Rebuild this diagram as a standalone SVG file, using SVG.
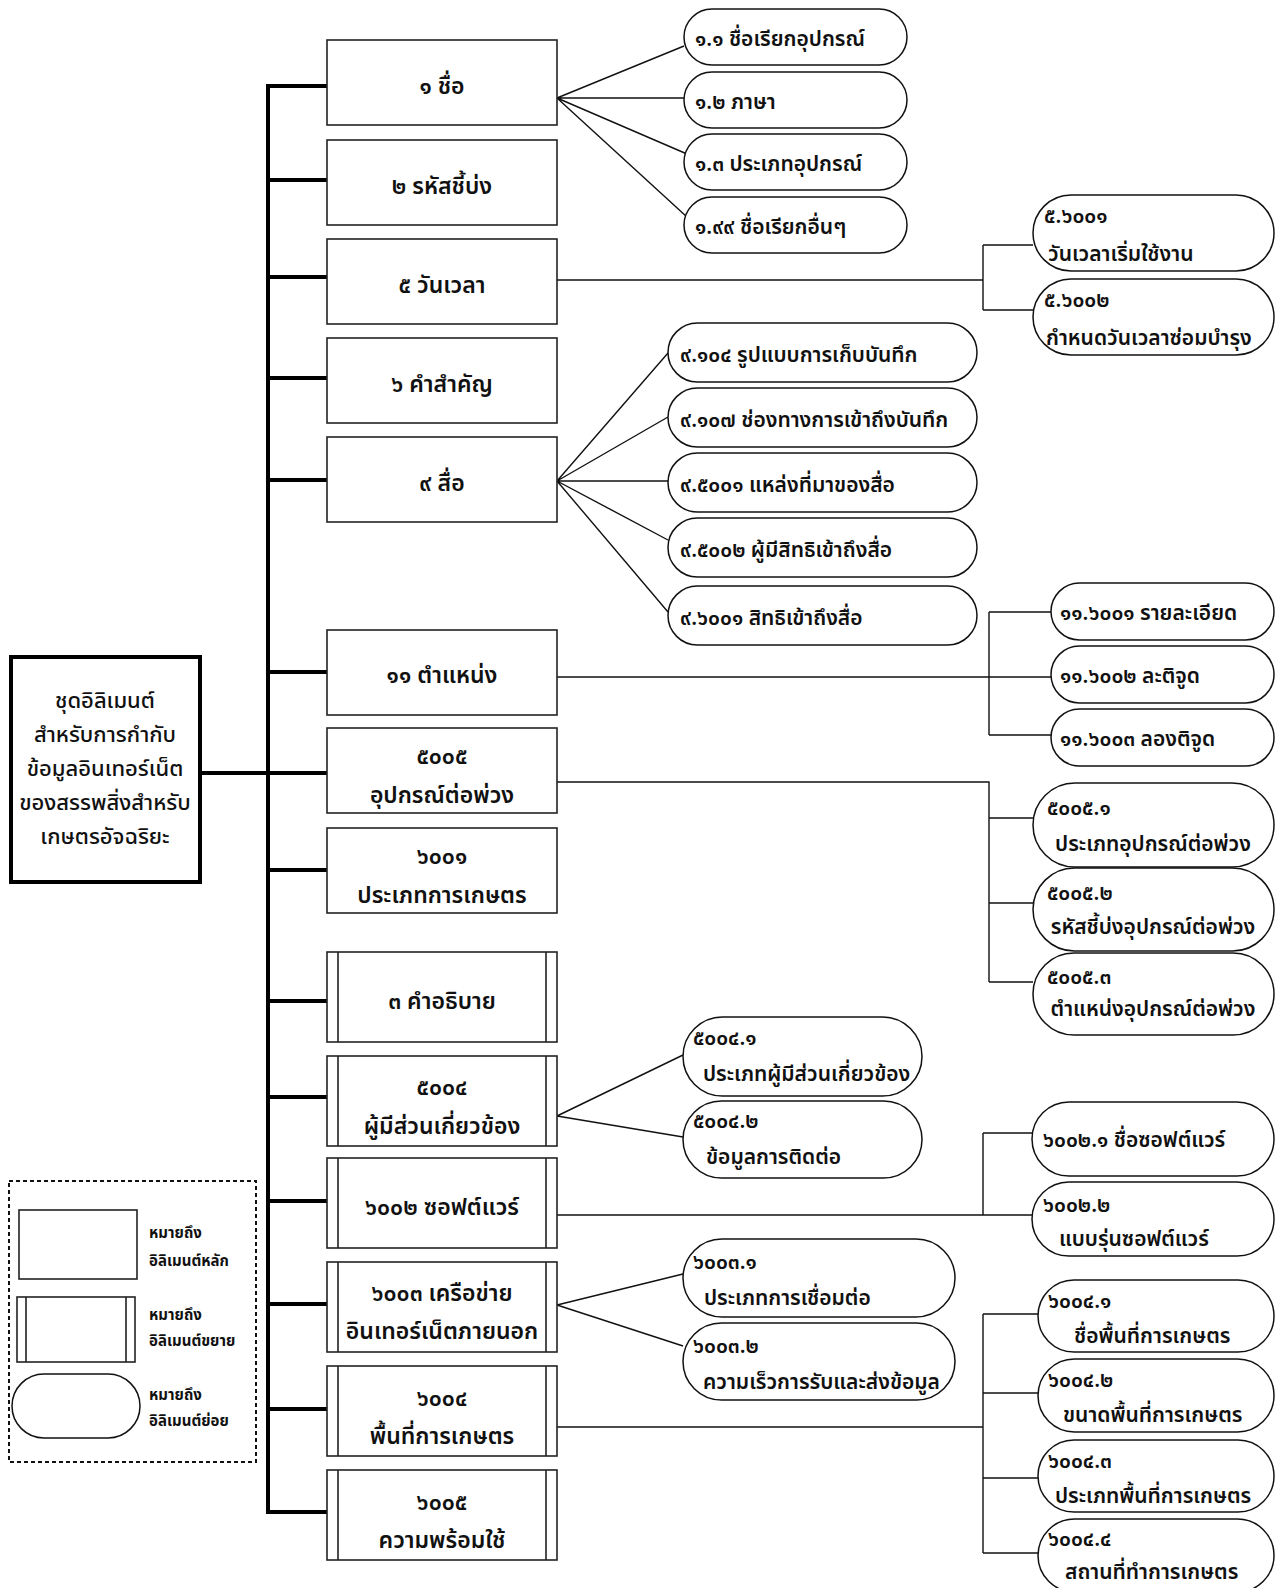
<svg xmlns="http://www.w3.org/2000/svg" width="1276" height="1588" viewBox="0 0 1276 1588">
<style>
.bx{fill:#fff;stroke:#222;stroke-width:1.6}
.pl{fill:#fff;stroke:#111;stroke-width:1.5}
.in{stroke:#222;stroke-width:1.6;fill:none}
.bus{stroke:#000;stroke-width:4;fill:none}
.cn{stroke:#111;stroke-width:1.4;fill:none}
text{font-family:"Noto Sans Thai","Noto Sans Thai UI","Leelawadee UI",Tahoma,"Noto Sans","DejaVu Sans",sans-serif;font-size:21px;font-weight:600;fill:#111}
.c{text-anchor:middle}
.b{font-size:23px;font-weight:650}
.m{font-size:22px;font-weight:500}
.lg{font-size:15px;font-weight:bold}
</style>
<rect width="1276" height="1588" fill="#fff"/>

<g id="connectors">
  <path class="bus" d="M268 84V1514"/>
  <path class="bus" d="M200 773H268M266 86H327M266 180H327M266 277H327M266 378H327M266 480H327M266 672H327M266 773H327M266 870H327M266 1001H327M266 1097H327M266 1201H327M266 1304H327M266 1409H327M266 1512H327"/>
  <path class="cn" d="M557 98L684 46M557 98H684M557 98L687 154M557 98L687 217"/>
  <path class="cn" d="M557 280H983M983 245V310M983 245H1033M983 310H1033"/>
  <path class="cn" d="M557 481L668 353M557 481L668 417M557 481H668M557 481L668 540M557 481L668 612"/>
  <path class="cn" d="M557 677H1051M989 612V735M989 612H1051M989 735H1051"/>
  <path class="cn" d="M557 782H989V982M989 818H1033M989 903H1033M989 982H1033"/>
  <path class="cn" d="M557 1116L683 1055M557 1116L683 1137"/>
  <path class="cn" d="M557 1215H1032M983 1133V1215M983 1133H1032"/>
  <path class="cn" d="M557 1305L683 1274M557 1305L683 1346"/>
  <path class="cn" d="M557 1427H983M983 1314V1553M983 1314H1038M983 1393H1038M983 1478H1038M983 1553H1038"/>
</g>

<g id="root">
  <rect x="11" y="657" width="189" height="225" fill="#fff" stroke="#000" stroke-width="4"/>
  <text class="c m" x="105" y="708">ชุดอิลิเมนต์</text>
  <text class="c m" x="105" y="742">สำหรับการกำกับ</text>
  <text class="c m" x="105" y="776">ข้อมูลอินเทอร์เน็ต</text>
  <text class="c m" x="105" y="810">ของสรรพสิ่งสำหรับ</text>
  <text class="c m" x="105" y="844">เกษตรอัจฉริยะ</text>
</g>

<g id="n1"><rect class="bx" x="327" y="40" width="230" height="85"/><text class="c b" x="442" y="94">๑ ชื่อ</text></g>
<g id="n2"><rect class="bx" x="327" y="140" width="230" height="85"/><text class="c b" x="442" y="194">๒ รหัสชี้บ่ง</text></g>
<g id="n5"><rect class="bx" x="327" y="239" width="230" height="85"/><text class="c b" x="442" y="293">๕ วันเวลา</text></g>
<g id="n6"><rect class="bx" x="327" y="338" width="230" height="85"/><text class="c b" x="442" y="392">๖ คำสำคัญ</text></g>
<g id="n9"><rect class="bx" x="327" y="437" width="230" height="85"/><text class="c b" x="442" y="491">๙ สื่อ</text></g>
<g id="n11"><rect class="bx" x="327" y="630" width="230" height="85"/><text class="c b" x="442" y="683">๑๑ ตำแหน่ง</text></g>
<g id="n5005"><rect class="bx" x="327" y="728" width="230" height="85"/><text class="c b" x="442" y="764">๕๐๐๕</text><text class="c b" x="442" y="803">อุปกรณ์ต่อพ่วง</text></g>
<g id="n6001"><rect class="bx" x="327" y="828" width="230" height="85"/><text class="c b" x="442" y="864">๖๐๐๑</text><text class="c b" x="442" y="903">ประเภทการเกษตร</text></g>

<g id="n3"><rect class="bx" x="327" y="952" width="230" height="90"/><path class="in" d="M338 952V1042M546 952V1042"/><text class="c b" x="442" y="1009">๓ คำอธิบาย</text></g>
<g id="n5004"><rect class="bx" x="327" y="1056" width="230" height="90"/><path class="in" d="M338 1056V1146M546 1056V1146"/><text class="c b" x="442" y="1095">๕๐๐๔</text><text class="c b" x="442" y="1134">ผู้มีส่วนเกี่ยวข้อง</text></g>
<g id="n6002"><rect class="bx" x="327" y="1158" width="230" height="90"/><path class="in" d="M338 1158V1248M546 1158V1248"/><text class="c b" x="442" y="1215">๖๐๐๒ ซอฟต์แวร์</text></g>
<g id="n6003"><rect class="bx" x="327" y="1262" width="230" height="90"/><path class="in" d="M338 1262V1352M546 1262V1352"/><text class="c b" x="442" y="1301">๖๐๐๓ เครือข่าย</text><text class="c b" x="442" y="1339">อินเทอร์เน็ตภายนอก</text></g>
<g id="n6004"><rect class="bx" x="327" y="1366" width="230" height="90"/><path class="in" d="M338 1366V1456M546 1366V1456"/><text class="c b" x="442" y="1406">๖๐๐๔</text><text class="c b" x="442" y="1444">พื้นที่การเกษตร</text></g>
<g id="n6005"><rect class="bx" x="327" y="1470" width="230" height="90"/><path class="in" d="M338 1470V1560M546 1470V1560"/><text class="c b" x="442" y="1510">๖๐๐๕</text><text class="c b" x="442" y="1548">ความพร้อมใช้</text></g>

<g id="p1_1"><rect class="pl" x="684" y="9" width="223" height="56" rx="28"/><text x="695" y="46">๑.๑ ชื่อเรียกอุปกรณ์</text></g>
<g id="p1_2"><rect class="pl" x="684" y="72" width="223" height="56" rx="28"/><text x="695" y="109">๑.๒ ภาษา</text></g>
<g id="p1_3"><rect class="pl" x="684" y="134" width="223" height="56" rx="28"/><text x="695" y="171">๑.๓ ประเภทอุปกรณ์</text></g>
<g id="p1_99"><rect class="pl" x="684" y="197" width="223" height="56" rx="28"/><text x="695" y="234">๑.๙๙ ชื่อเรียกอื่นๆ</text></g>

<g id="p5_6001"><rect class="pl" x="1033" y="195" width="241" height="76" rx="38"/><text x="1044" y="223">๕.๖๐๐๑</text><text x="1048" y="261">วันเวลาเริ่มใช้งาน</text></g>
<g id="p5_6002"><rect class="pl" x="1033" y="279" width="241" height="76" rx="38"/><text x="1044" y="307">๕.๖๐๐๒</text><text x="1046" y="345">กำหนดวันเวลาซ่อมบำรุง</text></g>

<g id="p9_104"><rect class="pl" x="668" y="323" width="309" height="59" rx="29.5"/><text x="680" y="362">๙.๑๐๔ รูปแบบการเก็บบันทึก</text></g>
<g id="p9_107"><rect class="pl" x="668" y="388" width="309" height="59" rx="29.5"/><text x="680" y="427">๙.๑๐๗ ช่องทางการเข้าถึงบันทึก</text></g>
<g id="p9_5001"><rect class="pl" x="668" y="453" width="309" height="59" rx="29.5"/><text x="680" y="492">๙.๕๐๐๑ แหล่งที่มาของสื่อ</text></g>
<g id="p9_5002"><rect class="pl" x="668" y="518" width="309" height="59" rx="29.5"/><text x="680" y="557">๙.๕๐๐๒ ผู้มีสิทธิเข้าถึงสื่อ</text></g>
<g id="p9_6001"><rect class="pl" x="668" y="586" width="309" height="59" rx="29.5"/><text x="680" y="625">๙.๖๐๐๑ สิทธิเข้าถึงสื่อ</text></g>

<g id="p11_6001"><rect class="pl" x="1051" y="583" width="223" height="57" rx="28.5"/><text x="1060" y="620">๑๑.๖๐๐๑ รายละเอียด</text></g>
<g id="p11_6002"><rect class="pl" x="1051" y="646" width="223" height="57" rx="28.5"/><text x="1060" y="683">๑๑.๖๐๐๒ ละติจูด</text></g>
<g id="p11_6003"><rect class="pl" x="1051" y="709" width="223" height="57" rx="28.5"/><text x="1060" y="746">๑๑.๖๐๐๓ ลองติจูด</text></g>

<g id="p5005_1"><rect class="pl" x="1033" y="783" width="241" height="84" rx="42"/><text x="1047" y="815">๕๐๐๕.๑</text><text class="c" x="1153" y="851">ประเภทอุปกรณ์ต่อพ่วง</text></g>
<g id="p5005_2"><rect class="pl" x="1033" y="868" width="241" height="83" rx="41.5"/><text x="1047" y="900">๕๐๐๕.๒</text><text class="c" x="1153" y="934">รหัสชี้บ่งอุปกรณ์ต่อพ่วง</text></g>
<g id="p5005_3"><rect class="pl" x="1033" y="953" width="241" height="82" rx="41"/><text x="1047" y="984">๕๐๐๕.๓</text><text class="c" x="1153" y="1016">ตำแหน่งอุปกรณ์ต่อพ่วง</text></g>

<g id="p5004_1"><rect class="pl" x="683" y="1017" width="239" height="79" rx="39.5"/><text x="693" y="1045">๕๐๐๔.๑</text><text x="703" y="1081">ประเภทผู้มีส่วนเกี่ยวข้อง</text></g>
<g id="p5004_2"><rect class="pl" x="683" y="1101" width="239" height="77" rx="38.5"/><text x="693" y="1128">๕๐๐๔.๒</text><text x="706" y="1164">ข้อมูลการติดต่อ</text></g>

<g id="p6002_1"><rect class="pl" x="1032" y="1102" width="242" height="74" rx="37"/><text x="1043" y="1147">๖๐๐๒.๑ ชื่อซอฟต์แวร์</text></g>
<g id="p6002_2"><rect class="pl" x="1032" y="1182" width="242" height="74" rx="37"/><text x="1043" y="1212">๖๐๐๒.๒</text><text x="1059" y="1246">แบบรุ่นซอฟต์แวร์</text></g>

<g id="p6003_1"><rect class="pl" x="683" y="1239" width="272" height="78" rx="39"/><text x="693" y="1269">๖๐๐๓.๑</text><text x="704" y="1305">ประเภทการเชื่อมต่อ</text></g>
<g id="p6003_2"><rect class="pl" x="683" y="1323" width="272" height="77" rx="38.5"/><text x="693" y="1353">๖๐๐๓.๒</text><text x="703" y="1389">ความเร็วการรับและส่งข้อมูล</text></g>

<g id="p6004_1"><rect class="pl" x="1038" y="1280" width="236" height="72" rx="36"/><text x="1048" y="1308">๖๐๐๔.๑</text><text x="1074" y="1343">ชื่อพื้นที่การเกษตร</text></g>
<g id="p6004_2"><rect class="pl" x="1038" y="1359" width="236" height="73" rx="36.5"/><text x="1048" y="1387">๖๐๐๔.๒</text><text x="1063" y="1422">ขนาดพื้นที่การเกษตร</text></g>
<g id="p6004_3"><rect class="pl" x="1038" y="1440" width="236" height="72" rx="36"/><text x="1048" y="1468">๖๐๐๔.๓</text><text x="1055" y="1503">ประเภทพื้นที่การเกษตร</text></g>
<g id="p6004_4"><rect class="pl" x="1038" y="1519" width="236" height="73" rx="36.5"/><text x="1048" y="1546">๖๐๐๔.๔</text><text x="1065" y="1579">สถานที่ทำการเกษตร</text></g>

<g id="legend">
  <rect x="9" y="1181" width="247" height="281" fill="none" stroke="#111" stroke-width="2" stroke-dasharray="4 3"/>
  <rect class="bx" x="19" y="1210" width="118" height="69"/>
  <rect class="bx" x="17" y="1297" width="118" height="65"/>
  <path class="in" d="M26 1297V1362M126 1297V1362"/>
  <rect class="pl" x="12" y="1374" width="128" height="64" rx="32"/>
  <text class="lg" x="149" y="1238">หมายถึง</text>
  <text class="lg" x="149" y="1266">อิลิเมนต์หลัก</text>
  <text class="lg" x="149" y="1320">หมายถึง</text>
  <text class="lg" x="149" y="1346">อิลิเมนต์ขยาย</text>
  <text class="lg" x="149" y="1400">หมายถึง</text>
  <text class="lg" x="149" y="1426">อิลิเมนต์ย่อย</text>
</g>
</svg>
